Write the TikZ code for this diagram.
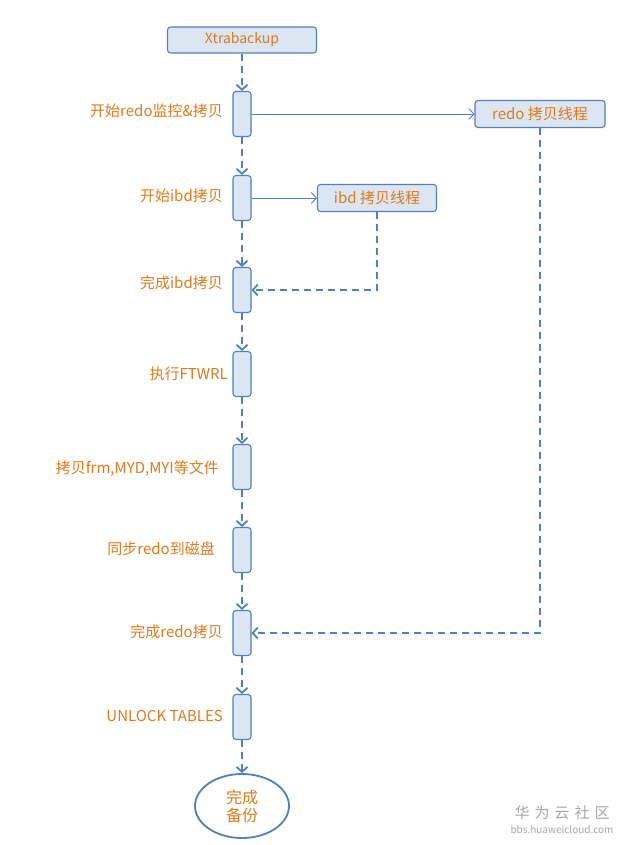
\documentclass[tikz,border=0pt]{standalone}
\usepackage{fontspec}
\setmainfont{Noto Sans CJK SC}
\usetikzlibrary{arrows.meta,shapes.geometric}
\definecolor{lineblue}{HTML}{4F81BD}
\definecolor{boxfill}{HTML}{DCE6F2}
\definecolor{txtorange}{HTML}{DF7A1C}
\begin{document}
\begin{tikzpicture}[x=1pt,y=-1pt,>={Straight Barb[length=5pt,width=11pt]},font=\fontsize{15}{17}\selectfont,
  every node/.style={text=txtorange},
  box/.style={draw=lineblue,line width=1.1pt,fill=boxfill,rounded corners=3pt,inner sep=0pt},
  bar/.style={box,minimum width=18pt,minimum height=45pt},
  lbl/.style={anchor=east,inner sep=0pt},
  flow/.style={->,draw=lineblue,line width=1.8pt,dash pattern=on 7pt off 5pt},
  call/.style={-{Straight Barb[length=5pt,width=11pt,line width=0.9pt]},draw=lineblue,line width=0.9pt}]
\useasboundingbox (0,0) rectangle (629,845);

\node[box,minimum width=149pt,minimum height=26pt,font=\fontsize{14}{16}\selectfont] (start) at (242,40) {Xtrabackup};
\node[bar] (b1) at (242,114) {};
 \node[bar] (b2) at (242,198) {};
	\node[bar] (b3) at (242,290) {};
	\node[bar] (b4) at (242,374) {};
	\node[bar] (b5) at (242,467) {};
	\node[bar] (b6) at (242,550) {};
	\node[bar] (b7) at (242,633) {};
	\node[bar] (b8) at (242,717) {};
\node[ellipse,draw=lineblue,line width=1.8pt,minimum width=94pt,minimum height=64pt,align=center,inner sep=0pt,font=\fontsize{16}{18}\selectfont] (done) at (242,806) {完成\\备份};

\node[box,minimum width=130pt,minimum height=27pt] (redo) at (540,114) {redo 拷贝线程};
\node[box,minimum width=119pt,minimum height=27pt] (ibd) at (377,198) {ibd 拷贝线程};

\node[lbl] at (223,111) {开始redo监控\&拷贝};
\node[lbl] at (223,196) {开始ibd拷贝};
\node[lbl] at (223,283) {完成ibd拷贝};
\node[lbl] at (228,374) {执行FTWRL};
\node[lbl] at (219,469) {拷贝frm,MYD,MYI等文件};
\node[lbl] at (215,549) {同步redo到磁盘};
\node[lbl] at (223,632) {完成redo拷贝};
\node[lbl] at (223,716) {UNLOCK TABLES};

\node[text=gray!70,inner sep=0pt] (wm1) at (562,813) {\fontsize{15}{15}\selectfont 华\,\,为\,\,云\,\,社\,\,区};
\node[text=gray!70,inner sep=0pt] (wm2) at (562,830) {\fontsize{10}{10}\selectfont bbs.huaweicloud.com};

\draw[flow] (start) -- (b1);
\draw[flow] (b1) -- (b2);
\draw[flow] (b2) -- (b3);
\draw[flow] (b3) -- (b4);
\draw[flow] (b4) -- (b5);
\draw[flow] (b5) -- (b6);
\draw[flow] (b6) -- (b7);
\draw[flow] (b7) -- (b8);
\draw[flow] (b8) -- (done);

\draw[call] (b1) -- (redo);
\draw[call] (b2) -- (ibd);
\draw[flow] (ibd) |- (b3);
\draw[flow] (redo) |- (b7);
\end{tikzpicture}
\end{document}
